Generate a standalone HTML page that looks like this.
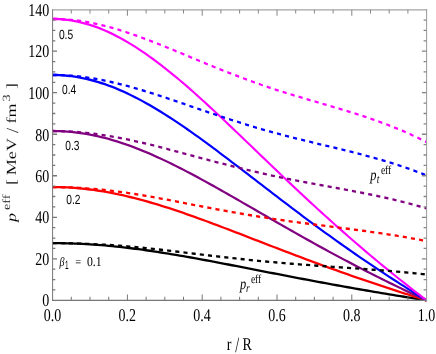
<!DOCTYPE html>
<html><head><meta charset="utf-8"><title>plot</title>
<style>html,body{margin:0;padding:0;background:#fff}svg{display:block;will-change:transform}text{font-family:"Liberation Serif",serif;fill:#000;text-rendering:geometricPrecision}.s{font-family:"Liberation Sans",sans-serif}.i{font-style:italic}</style></head><body>
<svg width="436" height="354" viewBox="0 0 436 354">
<rect width="436" height="354" fill="#fff"/>
<g transform="scale(1 1.2900)">
<g fill="none" stroke-width="1.80" stroke-linejoin="round">
<path stroke="#000000" d="M52.50 188.46 L56.24 188.47 L59.98 188.50 L63.72 188.55 L67.46 188.61 L71.20 188.70 L74.94 188.80 L78.68 188.92 L82.42 189.07 L86.16 189.22 L89.90 189.40 L93.64 189.60 L97.38 189.81 L101.12 190.04 L104.86 190.28 L108.60 190.54 L112.34 190.82 L116.08 191.12 L119.82 191.43 L123.56 191.75 L127.30 192.09 L131.04 192.44 L134.78 192.81 L138.52 193.19 L142.26 193.58 L146.00 193.99 L149.74 194.40 L153.48 194.83 L157.22 195.27 L160.96 195.72 L164.70 196.18 L168.44 196.65 L172.18 197.13 L175.92 197.61 L179.66 198.10 L183.40 198.61 L187.14 199.11 L190.88 199.63 L194.62 200.15 L198.36 200.68 L202.10 201.21 L205.84 201.75 L209.58 202.29 L213.32 202.83 L217.06 203.38 L220.80 203.93 L224.54 204.49 L228.28 205.05 L232.02 205.61 L235.76 206.17 L239.50 206.73 L243.24 207.30 L246.98 207.86 L250.72 208.43 L254.46 208.99 L258.20 209.56 L261.94 210.13 L265.68 210.69 L269.42 211.26 L273.16 211.82 L276.90 212.38 L280.64 212.95 L284.38 213.51 L288.12 214.07 L291.86 214.62 L295.60 215.18 L299.34 215.73 L303.08 216.28 L306.82 216.83 L310.56 217.37 L314.30 217.92 L318.04 218.46 L321.78 219.00 L325.52 219.53 L329.26 220.06 L333.00 220.59 L336.74 221.12 L340.48 221.64 L344.22 222.16 L347.96 222.68 L351.70 223.19 L355.44 223.70 L359.18 224.21 L362.92 224.71 L366.66 225.21 L370.40 225.71 L374.14 226.20 L377.88 226.70 L381.62 227.18 L385.36 227.67 L389.10 228.15 L392.84 228.63 L396.58 229.10 L400.32 229.57 L404.06 230.04 L407.80 230.51 L411.54 230.97 L415.28 231.43 L419.02 231.89 L422.76 232.34 L426.50 232.79"/>
<path stroke="#ff0000" d="M52.50 145.02 L56.24 145.03 L59.98 145.09 L63.72 145.18 L67.46 145.32 L71.20 145.49 L74.94 145.69 L78.68 145.93 L82.42 146.21 L86.16 146.53 L89.90 146.88 L93.64 147.26 L97.38 147.68 L101.12 148.14 L104.86 148.62 L108.60 149.14 L112.34 149.69 L116.08 150.28 L119.82 150.89 L123.56 151.53 L127.30 152.20 L131.04 152.90 L134.78 153.63 L138.52 154.38 L142.26 155.16 L146.00 155.96 L149.74 156.78 L153.48 157.63 L157.22 158.50 L160.96 159.39 L164.70 160.30 L168.44 161.23 L172.18 162.17 L175.92 163.13 L179.66 164.11 L183.40 165.10 L187.14 166.11 L190.88 167.13 L194.62 168.16 L198.36 169.21 L202.10 170.26 L205.84 171.32 L209.58 172.39 L213.32 173.47 L217.06 174.56 L220.80 175.65 L224.54 176.75 L228.28 177.86 L232.02 178.97 L235.76 180.08 L239.50 181.19 L243.24 182.31 L246.98 183.43 L250.72 184.55 L254.46 185.67 L258.20 186.79 L261.94 187.92 L265.68 189.04 L269.42 190.15 L273.16 191.27 L276.90 192.39 L280.64 193.50 L284.38 194.61 L288.12 195.71 L291.86 196.82 L295.60 197.92 L299.34 199.01 L303.08 200.10 L306.82 201.19 L310.56 202.27 L314.30 203.34 L318.04 204.41 L321.78 205.48 L325.52 206.54 L329.26 207.59 L333.00 208.64 L336.74 209.68 L340.48 210.71 L344.22 211.74 L347.96 212.77 L351.70 213.78 L355.44 214.79 L359.18 215.80 L362.92 216.80 L366.66 217.79 L370.40 218.77 L374.14 219.75 L377.88 220.72 L381.62 221.69 L385.36 222.65 L389.10 223.60 L392.84 224.54 L396.58 225.48 L400.32 226.42 L404.06 227.35 L407.80 228.27 L411.54 229.18 L415.28 230.09 L419.02 231.00 L422.76 231.90 L426.50 232.79"/>
<path stroke="#800080" d="M52.50 101.57 L56.24 101.60 L59.98 101.68 L63.72 101.82 L67.46 102.02 L71.20 102.27 L74.94 102.58 L78.68 102.94 L82.42 103.36 L86.16 103.83 L89.90 104.35 L93.64 104.93 L97.38 105.56 L101.12 106.24 L104.86 106.96 L108.60 107.74 L112.34 108.56 L116.08 109.44 L119.82 110.35 L123.56 111.31 L127.30 112.31 L131.04 113.36 L134.78 114.45 L138.52 115.57 L142.26 116.73 L146.00 117.93 L149.74 119.16 L153.48 120.43 L157.22 121.73 L160.96 123.06 L164.70 124.42 L168.44 125.80 L172.18 127.22 L175.92 128.66 L179.66 130.12 L183.40 131.60 L187.14 133.11 L190.88 134.63 L194.62 136.17 L198.36 137.73 L202.10 139.31 L205.84 140.90 L209.58 142.50 L213.32 144.12 L217.06 145.74 L220.80 147.38 L224.54 149.02 L228.28 150.67 L232.02 152.33 L235.76 153.99 L239.50 155.66 L243.24 157.33 L246.98 159.00 L250.72 160.68 L254.46 162.35 L258.20 164.03 L261.94 165.70 L265.68 167.38 L269.42 169.05 L273.16 170.72 L276.90 172.39 L280.64 174.05 L284.38 175.71 L288.12 177.36 L291.86 179.01 L295.60 180.65 L299.34 182.29 L303.08 183.92 L306.82 185.54 L310.56 187.16 L314.30 188.77 L318.04 190.37 L321.78 191.96 L325.52 193.54 L329.26 195.12 L333.00 196.68 L336.74 198.24 L340.48 199.79 L344.22 201.33 L347.96 202.86 L351.70 204.38 L355.44 205.89 L359.18 207.39 L362.92 208.88 L366.66 210.36 L370.40 211.83 L374.14 213.29 L377.88 214.75 L381.62 216.19 L385.36 217.62 L389.10 219.05 L392.84 220.46 L396.58 221.87 L400.32 223.27 L404.06 224.65 L407.80 226.03 L411.54 227.40 L415.28 228.76 L419.02 230.11 L422.76 231.46 L426.50 232.79"/>
<path stroke="#0000ff" d="M52.50 58.12 L56.24 58.16 L59.98 58.27 L63.72 58.46 L67.46 58.72 L71.20 59.06 L74.94 59.47 L78.68 59.95 L82.42 60.51 L86.16 61.13 L89.90 61.83 L93.64 62.60 L97.38 63.43 L101.12 64.34 L104.86 65.30 L108.60 66.34 L112.34 67.43 L116.08 68.59 L119.82 69.81 L123.56 71.09 L127.30 72.43 L131.04 73.82 L134.78 75.26 L138.52 76.76 L142.26 78.31 L146.00 79.90 L149.74 81.54 L153.48 83.23 L157.22 84.96 L160.96 86.73 L164.70 88.54 L168.44 90.38 L172.18 92.26 L175.92 94.18 L179.66 96.12 L183.40 98.10 L187.14 100.10 L190.88 102.13 L194.62 104.19 L198.36 106.26 L202.10 108.36 L205.84 110.47 L209.58 112.61 L213.32 114.76 L217.06 116.92 L220.80 119.10 L224.54 121.28 L228.28 123.48 L232.02 125.69 L235.76 127.90 L239.50 130.12 L243.24 132.34 L246.98 134.57 L250.72 136.80 L254.46 139.03 L258.20 141.26 L261.94 143.49 L265.68 145.72 L269.42 147.95 L273.16 150.17 L276.90 152.39 L280.64 154.60 L284.38 156.81 L288.12 159.01 L291.86 161.21 L295.60 163.39 L299.34 165.57 L303.08 167.74 L306.82 169.90 L310.56 172.05 L314.30 174.19 L318.04 176.32 L321.78 178.44 L325.52 180.55 L329.26 182.64 L333.00 184.73 L336.74 186.80 L340.48 188.86 L344.22 190.91 L347.96 192.94 L351.70 194.97 L355.44 196.98 L359.18 198.98 L362.92 200.96 L366.66 202.93 L370.40 204.89 L374.14 206.84 L377.88 208.77 L381.62 210.69 L385.36 212.60 L389.10 214.50 L392.84 216.38 L396.58 218.25 L400.32 220.11 L404.06 221.96 L407.80 223.79 L411.54 225.62 L415.28 227.43 L419.02 229.23 L422.76 231.01 L426.50 232.79"/>
<path stroke="#ff00ff" d="M52.50 14.68 L56.24 14.73 L59.98 14.87 L63.72 15.10 L67.46 15.43 L71.20 15.85 L74.94 16.36 L78.68 16.96 L82.42 17.65 L86.16 18.44 L89.90 19.31 L93.64 20.26 L97.38 21.31 L101.12 22.43 L104.86 23.64 L108.60 24.94 L112.34 26.31 L116.08 27.75 L119.82 29.28 L123.56 30.87 L127.30 32.54 L131.04 34.28 L134.78 36.08 L138.52 37.95 L142.26 39.88 L146.00 41.87 L149.74 43.92 L153.48 46.03 L157.22 48.19 L160.96 50.40 L164.70 52.66 L168.44 54.96 L172.18 57.31 L175.92 59.70 L179.66 62.13 L183.40 64.60 L187.14 67.10 L190.88 69.63 L194.62 72.20 L198.36 74.79 L202.10 77.41 L205.84 80.05 L209.58 82.71 L213.32 85.40 L217.06 88.10 L220.80 90.82 L224.54 93.55 L228.28 96.29 L232.02 99.05 L235.76 101.81 L239.50 104.58 L243.24 107.36 L246.98 110.14 L250.72 112.92 L254.46 115.71 L258.20 118.50 L261.94 121.28 L265.68 124.06 L269.42 126.84 L273.16 129.62 L276.90 132.39 L280.64 135.15 L284.38 137.91 L288.12 140.66 L291.86 143.40 L295.60 146.13 L299.34 148.85 L303.08 151.56 L306.82 154.26 L310.56 156.94 L314.30 159.61 L318.04 162.27 L321.78 164.92 L325.52 167.55 L329.26 170.17 L333.00 172.77 L336.74 175.36 L340.48 177.93 L344.22 180.49 L347.96 183.03 L351.70 185.56 L355.44 188.07 L359.18 190.57 L362.92 193.04 L366.66 195.51 L370.40 197.95 L374.14 200.38 L377.88 202.80 L381.62 205.20 L385.36 207.58 L389.10 209.95 L392.84 212.30 L396.58 214.64 L400.32 216.96 L404.06 219.26 L407.80 221.55 L411.54 223.83 L415.28 226.09 L419.02 228.34 L422.76 230.57 L426.50 232.79"/>
<path stroke="#000000" stroke-dasharray="4.1 4.1" d="M52.50 188.46 L56.24 188.47 L59.98 188.49 L63.72 188.52 L67.46 188.57 L71.20 188.63 L74.94 188.70 L78.68 188.79 L82.42 188.89 L86.16 189.00 L89.90 189.12 L93.64 189.25 L97.38 189.39 L101.12 189.54 L104.86 189.71 L108.60 189.88 L112.34 190.07 L116.08 190.27 L119.82 190.49 L123.56 190.72 L127.30 190.95 L131.04 191.21 L134.78 191.47 L138.52 191.75 L142.26 192.04 L146.00 192.33 L149.74 192.64 L153.48 192.95 L157.22 193.27 L160.96 193.60 L164.70 193.93 L168.44 194.27 L172.18 194.61 L175.92 194.96 L179.66 195.30 L183.40 195.65 L187.14 196.00 L190.88 196.35 L194.62 196.70 L198.36 197.05 L202.10 197.39 L205.84 197.73 L209.58 198.07 L213.32 198.41 L217.06 198.75 L220.80 199.08 L224.54 199.40 L228.28 199.73 L232.02 200.05 L235.76 200.36 L239.50 200.67 L243.24 200.98 L246.98 201.28 L250.72 201.58 L254.46 201.87 L258.20 202.16 L261.94 202.44 L265.68 202.71 L269.42 202.98 L273.16 203.25 L276.90 203.51 L280.64 203.76 L284.38 204.00 L288.12 204.24 L291.86 204.48 L295.60 204.71 L299.34 204.93 L303.08 205.16 L306.82 205.37 L310.56 205.59 L314.30 205.80 L318.04 206.01 L321.78 206.22 L325.52 206.42 L329.26 206.63 L333.00 206.83 L336.74 207.03 L340.48 207.24 L344.22 207.44 L347.96 207.65 L351.70 207.85 L355.44 208.06 L359.18 208.26 L362.92 208.47 L366.66 208.69 L370.40 208.90 L374.14 209.12 L377.88 209.35 L381.62 209.57 L385.36 209.80 L389.10 210.04 L392.84 210.28 L396.58 210.53 L400.32 210.78 L404.06 211.04 L407.80 211.31 L411.54 211.58 L415.28 211.86 L419.02 212.15 L422.76 212.45 L426.50 212.76"/>
<path stroke="#ff0000" stroke-dasharray="4.1 4.1" d="M52.50 145.02 L56.24 145.03 L59.98 145.06 L63.72 145.13 L67.46 145.21 L71.20 145.32 L74.94 145.45 L78.68 145.61 L82.42 145.79 L86.16 145.99 L89.90 146.21 L93.64 146.45 L97.38 146.71 L101.12 147.00 L104.86 147.30 L108.60 147.62 L112.34 147.96 L116.08 148.33 L119.82 148.71 L123.56 149.10 L127.30 149.52 L131.04 149.95 L134.78 150.40 L138.52 150.87 L142.26 151.35 L146.00 151.84 L149.74 152.34 L153.48 152.86 L157.22 153.38 L160.96 153.92 L164.70 154.46 L168.44 155.01 L172.18 155.56 L175.92 156.12 L179.66 156.68 L183.40 157.24 L187.14 157.81 L190.88 158.37 L194.62 158.94 L198.36 159.50 L202.10 160.06 L205.84 160.62 L209.58 161.17 L213.32 161.71 L217.06 162.26 L220.80 162.79 L224.54 163.32 L228.28 163.85 L232.02 164.37 L235.76 164.88 L239.50 165.39 L243.24 165.89 L246.98 166.39 L250.72 166.88 L254.46 167.36 L258.20 167.83 L261.94 168.30 L265.68 168.75 L269.42 169.20 L273.16 169.64 L276.90 170.08 L280.64 170.50 L284.38 170.92 L288.12 171.32 L291.86 171.73 L295.60 172.12 L299.34 172.51 L303.08 172.89 L306.82 173.27 L310.56 173.65 L314.30 174.02 L318.04 174.39 L321.78 174.76 L325.52 175.13 L329.26 175.50 L333.00 175.86 L336.74 176.23 L340.48 176.60 L344.22 176.97 L347.96 177.34 L351.70 177.72 L355.44 178.10 L359.18 178.49 L362.92 178.88 L366.66 179.27 L370.40 179.68 L374.14 180.09 L377.88 180.50 L381.62 180.93 L385.36 181.37 L389.10 181.81 L392.84 182.27 L396.58 182.73 L400.32 183.21 L404.06 183.70 L407.80 184.20 L411.54 184.72 L415.28 185.25 L419.02 185.79 L422.76 186.35 L426.50 186.93"/>
<path stroke="#800080" stroke-dasharray="4.1 4.1" d="M52.50 101.57 L56.24 101.59 L59.98 101.64 L63.72 101.73 L67.46 101.85 L71.20 102.01 L74.94 102.20 L78.68 102.43 L82.42 102.68 L86.16 102.97 L89.90 103.30 L93.64 103.65 L97.38 104.03 L101.12 104.45 L104.86 104.89 L108.60 105.36 L112.34 105.86 L116.08 106.38 L119.82 106.93 L123.56 107.50 L127.30 108.09 L131.04 108.70 L134.78 109.33 L138.52 109.98 L142.26 110.65 L146.00 111.34 L149.74 112.04 L153.48 112.75 L157.22 113.48 L160.96 114.21 L164.70 114.96 L168.44 115.72 L172.18 116.49 L175.92 117.26 L179.66 118.04 L183.40 118.82 L187.14 119.60 L190.88 120.38 L194.62 121.17 L198.36 121.95 L202.10 122.73 L205.84 123.51 L209.58 124.28 L213.32 125.04 L217.06 125.80 L220.80 126.56 L224.54 127.30 L228.28 128.05 L232.02 128.78 L235.76 129.51 L239.50 130.22 L243.24 130.94 L246.98 131.64 L250.72 132.33 L254.46 133.01 L258.20 133.69 L261.94 134.35 L265.68 135.00 L269.42 135.64 L273.16 136.27 L276.90 136.89 L280.64 137.49 L284.38 138.09 L288.12 138.67 L291.86 139.25 L295.60 139.81 L299.34 140.37 L303.08 140.92 L306.82 141.47 L310.56 142.01 L314.30 142.54 L318.04 143.08 L321.78 143.61 L325.52 144.14 L329.26 144.67 L333.00 145.20 L336.74 145.74 L340.48 146.28 L344.22 146.82 L347.96 147.36 L351.70 147.91 L355.44 148.47 L359.18 149.03 L362.92 149.61 L366.66 150.19 L370.40 150.79 L374.14 151.39 L377.88 152.01 L381.62 152.64 L385.36 153.28 L389.10 153.94 L392.84 154.62 L396.58 155.31 L400.32 156.02 L404.06 156.75 L407.80 157.50 L411.54 158.27 L415.28 159.07 L419.02 159.88 L422.76 160.72 L426.50 161.59"/>
<path stroke="#0000ff" stroke-dasharray="4.1 4.1" d="M52.50 58.12 L56.24 58.15 L59.98 58.22 L63.72 58.33 L67.46 58.49 L71.20 58.70 L74.94 58.95 L78.68 59.24 L82.42 59.58 L86.16 59.96 L89.90 60.39 L93.64 60.85 L97.38 61.36 L101.12 61.90 L104.86 62.48 L108.60 63.10 L112.34 63.75 L116.08 64.43 L119.82 65.14 L123.56 65.88 L127.30 66.65 L131.04 67.45 L134.78 68.26 L138.52 69.10 L142.26 69.96 L146.00 70.84 L149.74 71.74 L153.48 72.66 L157.22 73.59 L160.96 74.53 L164.70 75.49 L168.44 76.46 L172.18 77.43 L175.92 78.42 L179.66 79.41 L183.40 80.41 L187.14 81.41 L190.88 82.41 L194.62 83.41 L198.36 84.41 L202.10 85.40 L205.84 86.39 L209.58 87.37 L213.32 88.34 L217.06 89.31 L220.80 90.27 L224.54 91.23 L228.28 92.17 L232.02 93.10 L235.76 94.03 L239.50 94.95 L243.24 95.85 L246.98 96.75 L250.72 97.63 L254.46 98.50 L258.20 99.36 L261.94 100.21 L265.68 101.04 L269.42 101.86 L273.16 102.67 L276.90 103.46 L280.64 104.24 L284.38 105.00 L288.12 105.75 L291.86 106.49 L295.60 107.22 L299.34 107.94 L303.08 108.65 L306.82 109.36 L310.56 110.06 L314.30 110.76 L318.04 111.45 L321.78 112.15 L325.52 112.84 L329.26 113.53 L333.00 114.23 L336.74 114.93 L340.48 115.63 L344.22 116.34 L347.96 117.06 L351.70 117.78 L355.44 118.52 L359.18 119.26 L362.92 120.02 L366.66 120.79 L370.40 121.58 L374.14 122.38 L377.88 123.20 L381.62 124.03 L385.36 124.89 L389.10 125.76 L392.84 126.66 L396.58 127.58 L400.32 128.52 L404.06 129.49 L407.80 130.49 L411.54 131.51 L415.28 132.57 L419.02 133.65 L422.76 134.77 L426.50 135.92"/>
<path stroke="#ff00ff" stroke-dasharray="4.1 4.1" d="M52.50 14.68 L56.24 14.71 L59.98 14.79 L63.72 14.93 L67.46 15.13 L71.20 15.39 L74.94 15.70 L78.68 16.06 L82.42 16.48 L86.16 16.95 L89.90 17.48 L93.64 18.05 L97.38 18.68 L101.12 19.35 L104.86 20.07 L108.60 20.83 L112.34 21.64 L116.08 22.48 L119.82 23.36 L123.56 24.27 L127.30 25.22 L131.04 26.19 L134.78 27.20 L138.52 28.23 L142.26 29.28 L146.00 30.36 L149.74 31.46 L153.48 32.57 L157.22 33.71 L160.96 34.86 L164.70 36.03 L168.44 37.21 L172.18 38.40 L175.92 39.60 L179.66 40.81 L183.40 42.02 L187.14 43.23 L190.88 44.45 L194.62 45.66 L198.36 46.87 L202.10 48.07 L205.84 49.26 L209.58 50.45 L213.32 51.63 L217.06 52.79 L220.80 53.95 L224.54 55.10 L228.28 56.24 L232.02 57.36 L235.76 58.47 L239.50 59.57 L243.24 60.66 L246.98 61.74 L250.72 62.80 L254.46 63.84 L258.20 64.87 L261.94 65.89 L265.68 66.89 L269.42 67.87 L273.16 68.84 L276.90 69.79 L280.64 70.72 L284.38 71.64 L288.12 72.54 L291.86 73.43 L295.60 74.31 L299.34 75.17 L303.08 76.03 L306.82 76.88 L310.56 77.73 L314.30 78.57 L318.04 79.42 L321.78 80.26 L325.52 81.10 L329.26 81.95 L333.00 82.80 L336.74 83.65 L340.48 84.52 L344.22 85.39 L347.96 86.27 L351.70 87.17 L355.44 88.08 L359.18 89.01 L362.92 89.95 L366.66 90.91 L370.40 91.90 L374.14 92.90 L377.88 93.93 L381.62 94.98 L385.36 96.06 L389.10 97.17 L392.84 98.31 L396.58 99.48 L400.32 100.68 L404.06 101.92 L407.80 103.20 L411.54 104.51 L415.28 105.86 L419.02 107.26 L422.76 108.69 L426.50 110.18"/>
</g>
<g stroke-width="1" fill="none">
<path d="M52.60 7.02 V233.29" stroke="#767676"/>
<path d="M52.10 232.79 H427.10" stroke="#767676"/>
<path d="M52.10 7.62 H427.10" stroke="#a4a4a4"/>
<path d="M426.60 7.02 V233.29" stroke="#999999"/>
<path d="M71.30 232.79 v-2.70 M90.00 232.79 v-2.70 M108.70 232.79 v-2.70 M127.40 232.79 v-4.40 M146.10 232.79 v-2.70 M164.80 232.79 v-2.70 M183.50 232.79 v-2.70 M202.20 232.79 v-4.40 M220.90 232.79 v-2.70 M239.60 232.79 v-2.70 M258.30 232.79 v-2.70 M277.00 232.79 v-4.40 M295.70 232.79 v-2.70 M314.40 232.79 v-2.70 M333.10 232.79 v-2.70 M351.80 232.79 v-4.40 M370.50 232.79 v-2.70 M389.20 232.79 v-2.70 M407.90 232.79 v-2.70" stroke="#767676"/>
<path d="M52.60 224.75 h2.7 M52.60 216.70 h2.7 M52.60 208.65 h2.7 M52.60 200.61 h4.4 M52.60 192.56 h2.7 M52.60 184.52 h2.7 M52.60 176.47 h2.7 M52.60 168.43 h4.4 M52.60 160.38 h2.7 M52.60 152.34 h2.7 M52.60 144.29 h2.7 M52.60 136.25 h4.4 M52.60 128.20 h2.7 M52.60 120.16 h2.7 M52.60 112.11 h2.7 M52.60 104.06 h4.4 M52.60 96.02 h2.7 M52.60 87.97 h2.7 M52.60 79.93 h2.7 M52.60 71.88 h4.4 M52.60 63.84 h2.7 M52.60 55.79 h2.7 M52.60 47.75 h2.7 M52.60 39.70 h4.4 M52.60 31.66 h2.7 M52.60 23.61 h2.7 M52.60 15.56 h2.7" stroke="#767676"/>
<path d="M71.30 7.52 v2.90 M90.00 7.52 v2.90 M108.70 7.52 v2.90 M127.40 7.52 v4.60 M146.10 7.52 v2.90 M164.80 7.52 v2.90 M183.50 7.52 v2.90 M202.20 7.52 v4.60 M220.90 7.52 v2.90 M239.60 7.52 v2.90 M258.30 7.52 v2.90 M277.00 7.52 v4.60 M295.70 7.52 v2.90 M314.40 7.52 v2.90 M333.10 7.52 v2.90 M351.80 7.52 v4.60 M370.50 7.52 v2.90 M389.20 7.52 v2.90 M407.90 7.52 v2.90" stroke="#858585"/>
<path d="M426.60 224.75 h-3.0 M426.60 216.70 h-3.0 M426.60 208.65 h-3.0 M426.60 200.61 h-4.7 M426.60 192.56 h-3.0 M426.60 184.52 h-3.0 M426.60 176.47 h-3.0 M426.60 168.43 h-4.7 M426.60 160.38 h-3.0 M426.60 152.34 h-3.0 M426.60 144.29 h-3.0 M426.60 136.25 h-4.7 M426.60 128.20 h-3.0 M426.60 120.16 h-3.0 M426.60 112.11 h-3.0 M426.60 104.06 h-4.7 M426.60 96.02 h-3.0 M426.60 87.97 h-3.0 M426.60 79.93 h-3.0 M426.60 71.88 h-4.7 M426.60 63.84 h-3.0 M426.60 55.79 h-3.0 M426.60 47.75 h-3.0 M426.60 39.70 h-4.7 M426.60 31.66 h-3.0 M426.60 23.61 h-3.0 M426.60 15.56 h-3.0" stroke="#858585"/>
</g>
<text transform="translate(49.30 237.45)" font-size="14" text-anchor="end">0</text>
<text transform="translate(49.30 205.27)" font-size="14" text-anchor="end">20</text>
<text transform="translate(49.30 173.09)" font-size="14" text-anchor="end">40</text>
<text transform="translate(49.30 140.91)" font-size="14" text-anchor="end">60</text>
<text transform="translate(49.30 109.03)" font-size="14" text-anchor="end">80</text>
<text transform="translate(49.30 76.54)" font-size="14" text-anchor="end">100</text>
<text transform="translate(49.30 44.36)" font-size="14" text-anchor="end">120</text>
<text transform="translate(49.30 12.18)" font-size="14" text-anchor="end">140</text>
<text transform="translate(52.50 248.53)" font-size="14" text-anchor="middle">0.0</text>
<text transform="translate(127.30 248.53)" font-size="14" text-anchor="middle">0.2</text>
<text transform="translate(202.10 248.53)" font-size="14" text-anchor="middle">0.4</text>
<text transform="translate(276.90 248.53)" font-size="14" text-anchor="middle">0.6</text>
<text transform="translate(351.70 248.53)" font-size="14" text-anchor="middle">0.8</text>
<text transform="translate(426.50 248.53)" font-size="14" text-anchor="middle">1.0</text>
<text transform="translate(226.65 271.16)" font-size="14">r</text>
<text transform="translate(235.20 272.71) scale(1.000 1.190)" font-size="14">/</text>
<text transform="translate(242.55 271.16)" font-size="14">R</text>
<text class="i" transform="translate(15.80 172.17) rotate(-90)" font-size="14" stroke="#fff" stroke-width="0.12">p</text>
<text transform="translate(9.80 162.87) rotate(-90)" font-size="11" stroke="#fff" stroke-width="0.12">eff</text>
<text transform="translate(15.80 143.37) rotate(-90)" font-size="14" stroke="#fff" stroke-width="0.12">[</text>
<text transform="translate(15.80 135.81) rotate(-90)" font-size="14" stroke="#fff" stroke-width="0.12">MeV</text>
<text transform="translate(17.70 103.18) rotate(-90) scale(1 1.220)" font-size="14" stroke="#fff" stroke-width="0.12">/</text>
<text transform="translate(15.80 95.66) rotate(-90)" font-size="14" stroke="#fff" stroke-width="0.12">fm</text>
<text transform="translate(9.80 78.64) rotate(-90)" font-size="11" stroke="#fff" stroke-width="0.12">3</text>
<text transform="translate(15.80 69.03) rotate(-90)" font-size="14" stroke="#fff" stroke-width="0.12">]</text>
<text class="s" transform="translate(58.90 30.08)" font-size="10.3" textLength="14.3" lengthAdjust="spacingAndGlyphs">0.5</text>
<text class="s" transform="translate(62.10 72.64)" font-size="10.3" textLength="14.2" lengthAdjust="spacingAndGlyphs">0.4</text>
<text class="s" transform="translate(65.30 115.97)" font-size="10.3" textLength="14.2" lengthAdjust="spacingAndGlyphs">0.3</text>
<text class="s" transform="translate(66.30 158.37)" font-size="10.3" textLength="14.2" lengthAdjust="spacingAndGlyphs">0.2</text>
<text class="i" transform="translate(59.40 205.89)" font-size="10">β</text>
<text class="s" transform="translate(64.90 208.53)" font-size="9.2" textLength="3.6" lengthAdjust="spacingAndGlyphs">1</text>
<text transform="translate(75.30 206.43)" font-size="10.4">=</text>
<text transform="translate(86.90 205.97)" font-size="10.6" textLength="14.7" lengthAdjust="spacingAndGlyphs">0.1</text>
<text class="i" transform="translate(370.30 139.69)" font-size="12.4">p</text>
<text class="i" transform="translate(376.80 141.71)" font-size="9.5">t</text>
<text transform="translate(380.90 134.57)" font-size="9.5">eff</text>
<text class="i" transform="translate(239.90 224.34)" font-size="12.4">p</text>
<text class="i" transform="translate(246.00 226.36)" font-size="9.5">r</text>
<text transform="translate(250.90 219.22)" font-size="9.5">eff</text>
</g>
</svg></body></html>
